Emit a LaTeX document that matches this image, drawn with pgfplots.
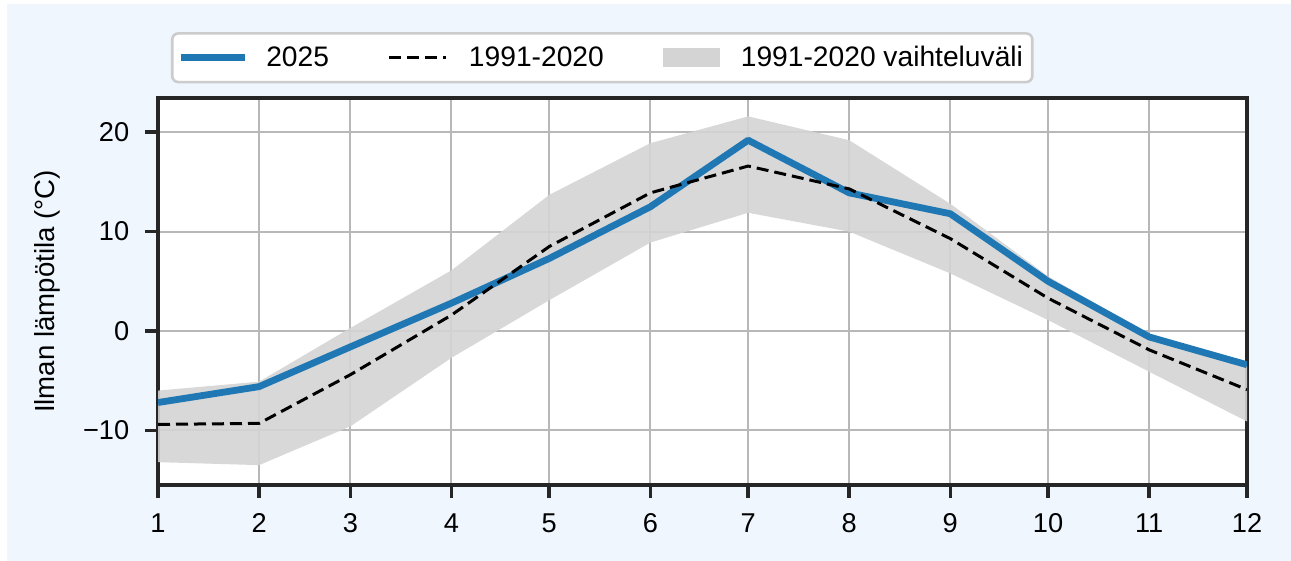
\documentclass[border=0pt]{standalone}
\usepackage{fontspec}
\setmainfont{Liberation Sans}
\usepackage{pgfplots}
\pgfplotsset{compat=1.18}
\definecolor{bgblue}{RGB}{239,246,254}
\definecolor{mplblue}{HTML}{1F77B4}
\definecolor{gridgray}{HTML}{B8B8B8}
\definecolor{bandgray}{HTML}{D4D4D4}
\definecolor{axgray}{HTML}{262626}
\definecolor{legendgray}{HTML}{CCCCCC}
\pgfplotsset{
  mylinelegend/.style={legend image code/.code={\draw[sharp corners,##1] (0bp,0bp) -- (28.5bp,0bp);}},
  mypatchlegend/.style={legend image code/.code={\fill[sharp corners,##1] (0bp,-4.85bp) rectangle (28.5bp,4.85bp);}},
}
\begin{document}
\begin{tikzpicture}[font=\fontsize{13.6bp}{16bp}\selectfont]
\fill[white] (0,0) rectangle (645.5bp,280.5bp);
\fill[bgblue] (3.5bp,0) rectangle (645.5bp,278.5bp);
\begin{axis}[
  at={(79bp,38bp)}, anchor=south west,
  scale only axis, width=544.5bp, height=193.5bp,
  xmin=0, xmax=334, ymin=-15.5, ymax=23.45,
  xtick={0,31,59,90,120,151,181,212,243,273,304,334},
  xticklabels={1,2,3,4,5,6,7,8,9,10,11,12},
  ytick={-10,0,10,20},
  yticklabels={−10,0,10,20},
  axis background/.style={fill=white},
  grid=major,
  major grid style={draw=gridgray, line width=1bp},
  axis line style={draw=axgray, line width=1.8bp},
  tick style={draw=axgray, line width=1.8bp},
  tick align=outside, major tick length=6.5bp,
  xtick pos=bottom, ytick pos=left,
  xticklabel style={inner sep=0pt, anchor=north, yshift=-7.5bp},
  yticklabel style={inner sep=0pt, anchor=east, xshift=-7.7bp},
  ylabel={Ilman lämpötila (°C)},
  ylabel style={at={(axis description cs:-0.1019,0.5)}, anchor=center, inner sep=0pt, font=\fontsize{13.8bp}{16bp}\selectfont},
  legend columns=3,
  legend cell align=left,
  legend style={
    at={(axis description cs:0.0119,1.1040)}, anchor=west,
    draw=legendgray, line width=1.3bp, fill=white, rounded corners=3bp,
    inner xsep=4.6bp, inner ysep=6.3bp,
    font=\fontsize{14.1bp}{16bp}\selectfont,
    nodes={inner sep=0pt},
    /tikz/every odd column/.append style={column sep=10.5bp},
    /tikz/every even column/.append style={column sep=29.5bp},
  },
]
% 1991-2020 range band (upper then lower reversed)
\addplot[fill=bandgray, draw=none, fill opacity=0.9, forget plot] coordinates {
  (0,-6.0) (31,-5.1) (59,0.3) (90,6.1) (120,13.7) (151,18.9) (181,21.6) (212,19.2) (243,12.8) (273,5.5) (304,-0.3) (334,-3.5)
  (334,-9.1) (304,-4.1) (273,1.1) (243,5.8) (212,10.0) (181,11.9) (151,8.9) (120,3.1) (90,-2.7) (59,-9.6) (31,-13.5) (0,-13.2)
} -- cycle;
% 2025
\addplot[mplblue, line width=3.4bp, line join=round, forget plot] coordinates {
  (0,-7.2) (31,-5.6) (59,-1.6) (90,2.8) (120,7.3) (151,12.5) (181,19.2) (212,13.9) (243,11.8) (273,5.0) (304,-0.6) (334,-3.4)
};
% 1991-2020 mean
\addplot[black, line width=1.5bp, dash pattern=on 6bp off 3bp, forget plot] coordinates {
  (0,-9.4) (31,-9.3) (59,-4.4) (90,1.6) (120,8.5) (151,13.9) (181,16.6) (212,14.3) (243,9.3) (273,3.3) (304,-1.9) (334,-5.9)
};
\addlegendimage{mplblue, line width=3.4bp, line cap=rect, mylinelegend}
\addlegendentry{2025}
\addlegendimage{black, line width=1.5bp, dash pattern=on 6bp off 3bp, mylinelegend}
\addlegendentry{1991-2020}
\addlegendimage{fill=bandgray, draw=none, mypatchlegend}
\addlegendentry{1991-2020 vaihteluväli}
\end{axis}
\pgfresetboundingbox
\path[use as bounding box] (0,0) rectangle (645.5bp,280.5bp);
\end{tikzpicture}
\end{document}
